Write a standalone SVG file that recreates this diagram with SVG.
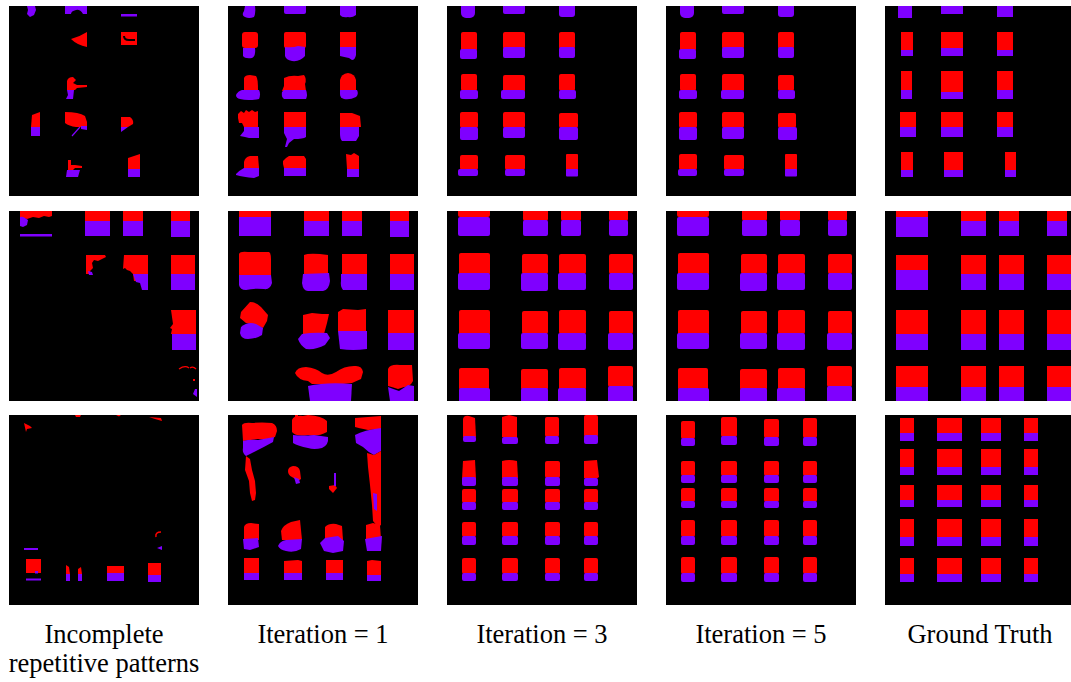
<svg xmlns="http://www.w3.org/2000/svg" width="1071" height="682" viewBox="0 0 1071 682">
  <style>
    .bg { fill: #000000; }
    .r { fill: #ff0000; }
    .p { fill: #7f00ff; }
    .lbl { font-family: "Liberation Serif", "Times New Roman", serif; font-size: 26.5px; fill: #000000; text-anchor: middle; }
  </style>
  <defs>
    <clipPath id="tile"><rect x="0" y="0" width="190" height="190"/></clipPath>
    <filter id="soft" x="-5%" y="-5%" width="110%" height="110%"><feGaussianBlur stdDeviation="0.7"/></filter>
  </defs>
  <rect x="0" y="0" width="1071" height="682" fill="#ffffff"/>

  <!-- ===== Row 1 ===== -->
  <g id="r1-incomplete" transform="translate(9,6)" clip-path="url(#tile)">
    <rect class="bg" width="190" height="190"/>
    <path class="p" d="M18,0 H26 L27,4 L25,9 L21,11 L18,8 L19,4 Z"/>
    <path class="p" d="M56,0 H78 V8 H74 Q71,3 67,4 Q62,5 62,8 H56 Z"/>
    <rect class="p" x="112" y="8" width="16" height="2.5"/>
    <path class="r" d="M62,33 Q70,31 78,26 V41 Q68,39 62,33 Z"/>
    <path class="r" d="M112,26 H128 V39 H112 Z"/>
    <path d="M115,30 Q115,34 120,34 H126" fill="none" stroke="#000" stroke-width="2"/>
    <path class="r" d="M58,75 Q59,71 64,71 L67,74 L64,77 L68,79 L78,79 L78,81 L68,82 L66,84 L58,84 Z"/>
    <path class="p" d="M58,84 H65 L64,93 H57 L59,89 Z"/>
    <path class="r" d="M23,109 L31,106 V121 H22 Z"/>
    <rect class="p" x="22" y="121" width="9" height="9"/>
    <path class="r" d="M56,106 Q70,106 76,110 L78,116 V122 L74,121 L67,121 Q60,120 56,117 Z"/>
    <path class="p" d="M72,120 L78,120 V124 L72,123 Z"/>
    <path d="M63,130 L71,121" stroke="#7f00ff" stroke-width="1.2"/>
    <path class="r" d="M112,111 H121 Q125,114 124,118 L119,121 H112 Z"/>
    <path class="p" d="M112,121 H119 L112,126 Z"/>
    <path class="r" d="M59,154 H62 V159 H66 L73,160 V162 H66 L64,164 H59 Z"/>
    <path class="p" d="M58,164 H71 L69,171 H57 Z"/>
    <path class="r" d="M119,152 L131,148 V163 H119 Z"/>
    <rect class="p" x="119" y="163" width="12" height="8"/>
  </g>

  <g id="r1-iter1" transform="translate(228,6)" clip-path="url(#tile)">
    <rect class="bg" width="190" height="190"/>
    <path class="p" d="M17,0 H27 Q28,7 26,11 Q21,13 17,11 Q13,9 16,5 Z"/>
    <rect class="p" x="56" y="-2" width="22" height="10" rx="2"/>
    <path class="p" d="M112,0 H128 V9 Q124,12 120,11 Q114,12 112,9 Z"/>
    <rect class="r" x="14" y="26" width="16" height="16" rx="3"/>
    <path class="p" d="M15,42 H27 Q28,50 24,52 Q17,53 15,50 Z"/>
    <rect class="r" x="56" y="26" width="22" height="16" rx="2"/>
    <path class="p" d="M57,41 Q65,42 70,40 L77,41 V50 Q72,56 64,55 Q58,54 57,50 Z"/>
    <rect class="r" x="112" y="26" width="16" height="15"/>
    <path class="p" d="M112,41 H128 V49 Q127,54 124,54 L121,52 Q116,51 112,50 Z"/>
    <path class="r" d="M16,72 Q17,69 22,69 L28,70 Q30,72 30,84 H16 Z"/>
    <path class="p" d="M8,89 Q10,85 14,84 H31 Q33,88 31,93 Q20,95 12,93 Q8,92 8,89 Z"/>
    <path class="r" d="M56,72 Q62,69 70,70 L76,69 Q79,73 77,78 L78,85 H54 L56,80 Z"/>
    <path class="p" d="M54,86 L56,84 H78 Q80,89 78,93 H56 Q53,91 54,86 Z"/>
    <path class="r" d="M112,74 Q113,68 120,67 Q127,68 128,74 V84 H112 Z"/>
    <path class="p" d="M112,84 H129 Q131,88 128,91 Q122,94 116,93 Q112,92 112,88 Z"/>
    <path class="r" d="M10,108 L13,105 L16,107 L18,104 L21,106 L24,104 L27,106 L30,105 V121 H16 L14,117 L11,117 L10,112 Z"/>
    <path class="p" d="M16,121 H31 V132 H21 L17,131 L12,130 L16,125 Z"/>
    <rect class="r" x="56" y="106" width="22" height="15"/>
    <path class="p" d="M56,121 H78 V131 Q75,133 66,133 L61,137 L59,141 L57,141 L59,133 L56,127 Z"/>
    <path class="r" d="M112,107 L124,107 L132,110 L133,121 H112 Z"/>
    <path class="p" d="M112,121 H131 V130 L128,135 H114 Q112,133 112,128 Z"/>
    <path class="r" d="M16,156 Q17,151 22,150 H30 L31,162 H16 Z"/>
    <path class="p" d="M8,168 Q12,164 16,162 H31 V170 L26,172 Q15,171 8,169 Z"/>
    <path class="r" d="M55,155 L58,152 L61,150 L68,150 L76,150 L78,153 V162 H56 L55,158 Z"/>
    <rect class="p" x="56" y="162" width="22" height="8"/>
    <path class="r" d="M118,148 L123,149 L126,147 L131,150 V163 H119 Z"/>
    <rect class="p" x="119" y="163" width="12" height="8"/>
  </g>

  <g id="r1-iter3" transform="translate(447,6)" clip-path="url(#tile)">
    <rect class="bg" width="190" height="190"/>
    <rect class="p" x="14" y="-4" width="14" height="16" rx="5"/>
    <rect class="p" x="56" y="-3" width="22" height="11" rx="2"/>
    <rect class="p" x="112" y="-3" width="16" height="14" rx="3"/>
    <rect class="r" x="14" y="26" width="16" height="19" rx="2"/>
    <rect class="p" x="13" y="43" width="17" height="10" rx="2"/>
    <rect class="r" x="56" y="26" width="22" height="17" rx="2"/>
    <rect class="p" x="56" y="41" width="22" height="11" rx="2"/>
    <rect class="r" x="112" y="26" width="16" height="17" rx="2"/>
    <rect class="p" x="112" y="41" width="16" height="11" rx="2"/>
    <rect class="r" x="14" y="68" width="16" height="17" rx="2"/>
    <rect class="p" x="13" y="84" width="18" height="9" rx="2"/>
    <rect class="r" x="56" y="69" width="22" height="17" rx="2"/>
    <rect class="p" x="54" y="84" width="24" height="9" rx="2"/>
    <rect class="r" x="112" y="68" width="16" height="17" rx="2"/>
    <rect class="p" x="112" y="84" width="17" height="9" rx="2"/>
    <rect class="r" x="13" y="106" width="18" height="16" rx="2"/>
    <rect class="p" x="13" y="121" width="18" height="13" rx="2"/>
    <rect class="r" x="56" y="106" width="22" height="16" rx="2"/>
    <rect class="p" x="56" y="121" width="22" height="11" rx="2"/>
    <rect class="r" x="112" y="107" width="19" height="15" rx="2"/>
    <rect class="p" x="112" y="121" width="19" height="13" rx="2"/>
    <rect class="r" x="13" y="149" width="18" height="15" rx="2"/>
    <rect class="p" x="11" y="163" width="20" height="7" rx="2"/>
    <rect class="r" x="58" y="149" width="20" height="15" rx="2"/>
    <rect class="p" x="58" y="163" width="20" height="7" rx="2"/>
    <rect class="r" x="119" y="148" width="12" height="16" rx="1"/>
    <rect class="p" x="119" y="163" width="12" height="7.5" rx="1"/>
  </g>

  <g id="r1-iter5" transform="translate(666,6)" clip-path="url(#tile)">
    <rect class="bg" width="190" height="190"/>
    <rect class="p" x="14" y="-4" width="14" height="16" rx="5"/>
    <rect class="p" x="56" y="-3" width="22" height="11" rx="2"/>
    <rect class="p" x="112" y="-3" width="16" height="14" rx="3"/>
    <rect class="r" x="14" y="26" width="16" height="19" rx="2"/>
    <rect class="p" x="13" y="43" width="17" height="10" rx="2"/>
    <rect class="r" x="56" y="26" width="22" height="17" rx="2"/>
    <rect class="p" x="56" y="41" width="22" height="11" rx="2"/>
    <rect class="r" x="112" y="26" width="16" height="17" rx="2"/>
    <rect class="p" x="112" y="41" width="16" height="11" rx="2"/>
    <rect class="r" x="14" y="68" width="16" height="17" rx="2"/>
    <rect class="p" x="13" y="84" width="18" height="9" rx="2"/>
    <rect class="r" x="56" y="68" width="22" height="18" rx="2"/>
    <rect class="p" x="55" y="84" width="23" height="9" rx="2"/>
    <rect class="r" x="112" y="69" width="16" height="16" rx="2"/>
    <rect class="p" x="112" y="84" width="17" height="9" rx="2"/>
    <rect class="r" x="13" y="106" width="18" height="16" rx="2"/>
    <rect class="p" x="13" y="121" width="18" height="13" rx="2"/>
    <rect class="r" x="56" y="106" width="22" height="16" rx="2"/>
    <rect class="p" x="56" y="121" width="22" height="12" rx="2"/>
    <rect class="r" x="112" y="107" width="18" height="15" rx="2"/>
    <rect class="p" x="112" y="121" width="19" height="13" rx="2"/>
    <rect class="r" x="13" y="148" width="18" height="16" rx="2"/>
    <rect class="p" x="12" y="163" width="19" height="7" rx="2"/>
    <rect class="r" x="58" y="149" width="20" height="15" rx="2"/>
    <rect class="p" x="58" y="163" width="20" height="7" rx="2"/>
    <rect class="r" x="119" y="148" width="12" height="16" rx="1"/>
    <rect class="p" x="119" y="163" width="12" height="7.5" rx="1"/>
  </g>

  <g id="r1-truth" transform="translate(885,6)" clip-path="url(#tile)">
    <rect class="bg" width="190" height="190"/>
    <g filter="url(#soft)">
      <rect class="p" x="13" y="-3" width="14" height="15"/>
      <rect class="p" x="56" y="-3" width="22" height="11"/>
      <rect class="p" x="112" y="-3" width="16" height="14"/>
      <rect class="r" x="16" y="26" width="12" height="18"/>
      <rect class="p" x="16" y="44" width="12" height="6"/>
      <rect class="r" x="56" y="26" width="22" height="16"/>
      <rect class="p" x="56" y="42" width="22" height="8"/>
      <rect class="r" x="112" y="26" width="16" height="18"/>
      <rect class="p" x="112" y="44" width="16" height="6"/>
      <rect class="r" x="16" y="65" width="11" height="19"/>
      <rect class="p" x="16" y="84" width="11" height="9"/>
      <rect class="r" x="56" y="65" width="22" height="21"/>
      <rect class="p" x="56" y="86" width="22" height="7"/>
      <rect class="r" x="112" y="65" width="16" height="19"/>
      <rect class="p" x="112" y="84" width="16" height="9"/>
      <rect class="r" x="15" y="106" width="16" height="15"/>
      <rect class="p" x="15" y="121" width="16" height="10"/>
      <rect class="r" x="56" y="106" width="22" height="15"/>
      <rect class="p" x="56" y="121" width="22" height="10"/>
      <rect class="r" x="112" y="106" width="16" height="15"/>
      <rect class="p" x="112" y="121" width="16" height="10"/>
      <rect class="r" x="16" y="146" width="12" height="18"/>
      <rect class="p" x="16" y="164" width="12" height="7"/>
      <rect class="r" x="59" y="146" width="19" height="18"/>
      <rect class="p" x="59" y="164" width="19" height="7"/>
      <rect class="r" x="120" y="146" width="11" height="18"/>
      <rect class="p" x="120" y="164" width="11" height="7"/>
    </g>
  </g>

  <!-- ===== Row 2 ===== -->
  <g id="r2-incomplete" transform="translate(9,211)" clip-path="url(#tile)">
    <rect class="bg" width="190" height="190"/>
    <path class="r" d="M11,0 H43 V5 L40,6 L35,5 L30,7 L24,6 L18,8 L14,7 L11,6 Z"/>
    <path class="p" d="M11,6 Q13,5 16,7 L19,9 L18,14 L14,16 L11,15 Z"/>
    <rect class="p" x="11" y="23" width="32" height="2.5"/>
    <rect class="r" x="76" y="0" width="25" height="10"/>
    <rect class="p" x="76" y="10" width="25" height="15"/>
    <rect class="r" x="114" y="0" width="20" height="10"/>
    <rect class="p" x="114" y="10" width="20" height="15"/>
    <rect class="r" x="162" y="0" width="19" height="10"/>
    <rect class="p" x="162" y="10" width="19" height="16"/>
    <path class="r" d="M77,44 L96,44 L97,46 L93,48 L89,50 L85,49 L83,52 L84,57 L81,60 L82,63 L77,63 Z"/>
    <path class="p" d="M79,60 L83,61 L84,64 L80,64 Z"/>
    <path class="r" d="M115,44 H139 V63 H131 V70 L125,70 L124,63 L121,60 L118,59 L116,57 L114,58 Z"/>
    <path class="p" d="M124,63 H139 V79 H133 L131,72 L127,71 Z"/>
    <rect class="r" x="162" y="44" width="24" height="19"/>
    <rect class="p" x="162" y="63" width="24" height="16"/>
    <path class="r" d="M162,99 H187 V123 H162 L163,118 L161,117 L164,113 Z"/>
    <rect class="p" x="163" y="123" width="24" height="16"/>
    <path d="M170,158 Q176,154 180,157 M181,157 Q184,155 187,158" fill="none" stroke="#ff0000" stroke-width="1.3"/>
    <rect class="r" x="184" y="168" width="2" height="2"/>
    <path class="p" d="M186,178 L188,178 L188,186 L184,183 Z"/>
  </g>

  <g id="r2-iter1" transform="translate(228,211)" clip-path="url(#tile)">
    <rect class="bg" width="190" height="190"/>
    <rect class="r" x="11" y="0" width="32" height="6"/>
    <rect class="p" x="11" y="6" width="32" height="19"/>
    <rect class="r" x="76" y="0" width="25" height="10"/>
    <rect class="p" x="76" y="10" width="25" height="15"/>
    <rect class="r" x="114" y="0" width="20" height="10"/>
    <rect class="p" x="114" y="10" width="20" height="15"/>
    <rect class="r" x="162" y="0" width="19" height="10"/>
    <rect class="p" x="162" y="10" width="19" height="16"/>
    <path class="r" d="M11,43 Q12,40 20,41 H41 Q43,42 43,48 V64 H11 Z"/>
    <path class="p" d="M11,64 H43 L44,72 Q42,79 36,78 Q26,77 18,79 Q12,79 11,74 Z"/>
    <path class="r" d="M76,44 Q80,42 92,43 L100,44 V63 H76 Z"/>
    <path class="p" d="M75,63 L101,62 L102,70 Q101,79 95,80 H80 Q75,80 74,72 Z"/>
    <path class="r" d="M114,43 H139 V63 H114 Z"/>
    <path class="p" d="M113,63 H139 V79 H115 Q112,75 113,70 Z"/>
    <rect class="r" x="162" y="43" width="24" height="20"/>
    <rect class="p" x="162" y="63" width="24" height="16"/>
    <path class="r" d="M22,91 Q28,91 33,96 L40,104 L39,110 L35,117 L28,114 L18,112 L12,107 L13,101 Z"/>
    <path class="p" d="M13,116 Q20,110 28,113 L35,117 L34,124 Q28,128 20,128 Q13,128 12,122 Z"/>
    <path class="r" d="M75,104 L84,102 L94,103 L101,103 L99,112 L96,123 H75 Z"/>
    <path class="p" d="M70,128 L74,123 Q86,121 99,122 L102,127 L97,134 Q88,139 78,138 Q72,134 70,128 Z"/>
    <path class="r" d="M110,101 L115,98 L130,99 L138,98 V120 H110 Z"/>
    <path class="p" d="M110,120 H139 V138 Q125,140 112,138 Z"/>
    <rect class="r" x="160" y="99" width="26" height="23"/>
    <rect class="p" x="160" y="122" width="26" height="17"/>
    <path class="r" d="M67,162 Q69,156 78,156 Q88,157 94,162 Q100,166 108,161 Q116,155 126,155 Q134,154 135,161 L133,168 L124,172 L115,173 L84,173 L80,170 Q70,169 67,162 Z"/>
    <path class="p" d="M80,175 Q98,171 124,173 L123,190 H82 Z"/>
    <path class="r" d="M160,158 Q162,153 172,154 L184,154 L185,170 Q182,176 176,176 L170,178 Q164,176 160,175 Z"/>
    <path class="p" d="M160,176 Q165,178 171,180 L180,174 L186,175 V190 H162 Z"/>
  </g>

  <g id="r2-iter3" transform="translate(447,211)" clip-path="url(#tile)">
    <rect class="bg" width="190" height="190"/>
    <rect class="r" x="11" y="-3" width="32" height="9" rx="2"/>
    <rect class="p" x="11" y="6" width="32" height="19" rx="2"/>
    <rect class="r" x="76" y="-3" width="25" height="13" rx="2"/>
    <rect class="p" x="76" y="9" width="25" height="16" rx="2"/>
    <rect class="r" x="114" y="-3" width="20" height="13" rx="2"/>
    <rect class="p" x="114" y="9" width="20" height="16" rx="2"/>
    <rect class="r" x="162" y="-3" width="19" height="13" rx="2"/>
    <rect class="p" x="162" y="9" width="19" height="16" rx="2"/>
    <rect class="r" x="12" y="42" width="31" height="22" rx="2"/>
    <rect class="p" x="11" y="62" width="32" height="17" rx="2"/>
    <rect class="r" x="75" y="43" width="26" height="20" rx="2"/>
    <rect class="p" x="74" y="62" width="27" height="18" rx="2"/>
    <rect class="r" x="112" y="43" width="27" height="20" rx="2"/>
    <rect class="p" x="111" y="62" width="28" height="17" rx="2"/>
    <rect class="r" x="162" y="43" width="24" height="20" rx="2"/>
    <rect class="p" x="162" y="62" width="24" height="17" rx="2"/>
    <rect class="r" x="12" y="99" width="31" height="25" rx="2"/>
    <rect class="p" x="11" y="122" width="32" height="16" rx="2"/>
    <rect class="r" x="75" y="100" width="26" height="23" rx="2"/>
    <rect class="p" x="74" y="122" width="27" height="16" rx="2"/>
    <rect class="r" x="112" y="99" width="27" height="24" rx="2"/>
    <rect class="p" x="111" y="122" width="28" height="17" rx="2"/>
    <rect class="r" x="162" y="100" width="24" height="23" rx="2"/>
    <rect class="p" x="161" y="122" width="25" height="17" rx="2"/>
    <rect class="r" x="12" y="157" width="30" height="22" rx="2"/>
    <rect class="p" x="12" y="177" width="31" height="15" rx="2"/>
    <rect class="r" x="74" y="158" width="27" height="21" rx="2"/>
    <rect class="p" x="74" y="177" width="27" height="15" rx="2"/>
    <rect class="r" x="112" y="157" width="27" height="22" rx="2"/>
    <rect class="p" x="111" y="177" width="28" height="15" rx="2"/>
    <rect class="r" x="161" y="155" width="25" height="21" rx="2"/>
    <rect class="p" x="161" y="175" width="25" height="17" rx="2"/>
  </g>

  <g id="r2-iter5" transform="translate(666,211)" clip-path="url(#tile)">
    <rect class="bg" width="190" height="190"/>
    <rect class="r" x="11" y="-3" width="32" height="9" rx="2"/>
    <rect class="p" x="11" y="6" width="32" height="19" rx="2"/>
    <rect class="r" x="76" y="-3" width="25" height="13" rx="2"/>
    <rect class="p" x="76" y="9" width="25" height="16" rx="2"/>
    <rect class="r" x="114" y="-3" width="20" height="13" rx="2"/>
    <rect class="p" x="114" y="9" width="20" height="16" rx="2"/>
    <rect class="r" x="162" y="-3" width="19" height="13" rx="2"/>
    <rect class="p" x="162" y="9" width="19" height="16" rx="2"/>
    <rect class="r" x="12" y="42" width="31" height="22" rx="2"/>
    <rect class="p" x="11" y="62" width="32" height="17" rx="2"/>
    <rect class="r" x="75" y="43" width="26" height="20" rx="2"/>
    <rect class="p" x="74" y="62" width="27" height="18" rx="2"/>
    <rect class="r" x="112" y="43" width="27" height="20" rx="2"/>
    <rect class="p" x="111" y="62" width="28" height="17" rx="2"/>
    <rect class="r" x="162" y="43" width="24" height="20" rx="2"/>
    <rect class="p" x="162" y="62" width="24" height="17" rx="2"/>
    <rect class="r" x="12" y="99" width="31" height="25" rx="2"/>
    <rect class="p" x="11" y="122" width="32" height="16" rx="2"/>
    <rect class="r" x="75" y="100" width="26" height="23" rx="2"/>
    <rect class="p" x="74" y="122" width="27" height="16" rx="2"/>
    <rect class="r" x="112" y="99" width="27" height="24" rx="2"/>
    <rect class="p" x="111" y="122" width="28" height="17" rx="2"/>
    <rect class="r" x="162" y="100" width="24" height="23" rx="2"/>
    <rect class="p" x="161" y="122" width="25" height="17" rx="2"/>
    <rect class="r" x="12" y="157" width="30" height="22" rx="2"/>
    <rect class="p" x="12" y="177" width="31" height="15" rx="2"/>
    <rect class="r" x="74" y="158" width="27" height="21" rx="2"/>
    <rect class="p" x="74" y="177" width="27" height="15" rx="2"/>
    <rect class="r" x="112" y="157" width="27" height="22" rx="2"/>
    <rect class="p" x="111" y="177" width="28" height="15" rx="2"/>
    <rect class="r" x="161" y="155" width="25" height="21" rx="2"/>
    <rect class="p" x="161" y="175" width="25" height="17" rx="2"/>
  </g>

  <g id="r2-truth" transform="translate(885,211)" clip-path="url(#tile)">
    <rect class="bg" width="190" height="190"/>
    <g filter="url(#soft)">
      <rect class="r" x="11" y="-3" width="32" height="9"/>
      <rect class="p" x="11" y="6" width="32" height="20"/>
      <rect class="r" x="76" y="-3" width="25" height="13"/>
      <rect class="p" x="76" y="10" width="25" height="15"/>
      <rect class="r" x="114" y="-3" width="20" height="13"/>
      <rect class="p" x="114" y="10" width="20" height="15"/>
      <rect class="r" x="162" y="-3" width="20" height="13"/>
      <rect class="p" x="162" y="10" width="20" height="15"/>
      <rect class="r" x="11" y="44" width="32" height="15"/>
      <rect class="p" x="11" y="59" width="32" height="20"/>
      <rect class="r" x="76" y="44" width="25" height="19"/>
      <rect class="p" x="76" y="63" width="25" height="16"/>
      <rect class="r" x="114" y="44" width="25" height="19"/>
      <rect class="p" x="114" y="63" width="25" height="16"/>
      <rect class="r" x="162" y="44" width="26" height="19"/>
      <rect class="p" x="162" y="63" width="26" height="16"/>
      <rect class="r" x="11" y="99" width="32" height="24"/>
      <rect class="p" x="11" y="123" width="32" height="16"/>
      <rect class="r" x="76" y="99" width="25" height="24"/>
      <rect class="p" x="76" y="123" width="25" height="16"/>
      <rect class="r" x="114" y="99" width="25" height="24"/>
      <rect class="p" x="114" y="123" width="25" height="16"/>
      <rect class="r" x="162" y="99" width="26" height="24"/>
      <rect class="p" x="162" y="123" width="26" height="16"/>
      <rect class="r" x="11" y="155" width="32" height="21"/>
      <rect class="p" x="11" y="176" width="32" height="16"/>
      <rect class="r" x="76" y="155" width="25" height="21"/>
      <rect class="p" x="76" y="176" width="25" height="16"/>
      <rect class="r" x="114" y="155" width="25" height="21"/>
      <rect class="p" x="114" y="176" width="25" height="16"/>
      <rect class="r" x="162" y="155" width="26" height="21"/>
      <rect class="p" x="162" y="176" width="26" height="16"/>
    </g>
  </g>

  <!-- ===== Row 3 ===== -->
  <g id="r3-incomplete" transform="translate(9,415)" clip-path="url(#tile)">
    <rect class="bg" width="190" height="190"/>
    <path class="r" d="M15,8 L21,11 L23,13 L18,14 L17,17 Z"/>
    <path class="r" d="M66,0 H72 L71,2 H67 Z"/>
    <path class="r" d="M107,0 H112 L110,1.5 Z"/>
    <path class="r" d="M140,2 L152,3 L153,6 L146,4 Z"/>
    <path d="M152,117 Q146,117 147,122" fill="none" stroke="#ff0000" stroke-width="1.5"/>
    <path class="p" d="M148,133 L153,131 L153,135 Z"/>
    <rect class="p" x="15" y="133" width="14" height="2"/>
    <rect class="r" x="17" y="144" width="15" height="14"/>
    <rect class="p" x="26" y="156" width="3" height="2.5"/>
    <rect class="p" x="17" y="163.5" width="15" height="2"/>
    <path class="r" d="M57,150 L60,152 L61,159 H57 Z"/>
    <rect class="p" x="57" y="159" width="4" height="7"/>
    <path class="r" d="M69,154 L72,152 L73,159 H69 Z"/>
    <rect class="p" x="69" y="159" width="4" height="7"/>
    <rect class="r" x="98" y="151" width="17" height="7"/>
    <rect class="p" x="98" y="158" width="17" height="8"/>
    <rect class="r" x="139" y="148" width="13" height="12"/>
    <rect class="p" x="139" y="160" width="13" height="7"/>
  </g>

  <g id="r3-iter1" transform="translate(228,415)" clip-path="url(#tile)">
    <rect class="bg" width="190" height="190"/>
    <path class="r" d="M14,10 Q16,7 24,8 Q34,7 44,8 Q49,10 49,16 L47,22 Q40,25 30,24 L15,26 Z"/>
    <path class="p" d="M15,26 Q22,24 30,25 L46,22 L45,27 Q36,32 28,36 L18,41 Q14,38 15,33 Z"/>
    <path class="r" d="M18,41 L22,44 L24,55 L27,66 L28,78 L27,85 L24,86 L22,78 L21,66 L17,55 Z"/>
    <path class="r" d="M64,5 Q66,0 75,1 L80,0 Q94,1 99,6 L99,17 Q90,22 80,20 Q68,22 64,17 Z"/>
    <rect class="r" x="67" y="0" width="3" height="5"/>
    <path class="p" d="M65,20 Q75,21 86,20 L100,22 Q101,30 94,33 Q86,35 80,33 Q70,31 65,28 Z"/>
    <path class="r" d="M127,3 L140,2 L153,1 V14 L140,15 Q130,13 127,12 Z"/>
    <path class="p" d="M127,20 Q136,15 153,13 V36 L146,40 Q140,37 135,32 L128,28 Z"/>
    <path class="r" d="M139,38 L146,40 L153,36 V110 L150,112 L145,106 L144,90 L142,70 L140,52 Z"/>
    <path class="p" d="M145,78 L149,79 L149,96 L146,94 Z"/>
    <path class="r" d="M60,56 Q60,52 65,51 Q71,51 72,56 L73,64 L70,66 L64,62 Q60,60 60,56 Z"/>
    <path class="p" d="M66,62 L71,64 L72,68 L68,69 Z"/>
    <path class="r" d="M101,71 L107,70 L109,73 L105,78 L101,74 Z"/>
    <path class="p" d="M106,58 L108,58 L108,71 L106,71 Z"/>
    <path class="r" d="M16,112 Q17,108 23,108 L31,109 L31,125 H16 Z"/>
    <path class="p" d="M15,124 L30,123 L31,132 L22,135 L16,134 Z"/>
    <path class="r" d="M53,116 Q55,110 63,107 L72,105 L74,125 H54 Z"/>
    <path class="p" d="M50,131 Q52,126 58,125 L74,124 L73,134 Q66,138 58,136 Q52,135 50,131 Z"/>
    <path class="r" d="M97,112 Q101,108 108,109 L114,111 L115,125 H97 Z"/>
    <path class="p" d="M92,128 L97,123 L110,121 L116,126 L115,136 L105,138 L96,136 Z"/>
    <path class="r" d="M138,110 L145,108 L152,110 L153,124 H138 Z"/>
    <path class="p" d="M137,124 L154,121 L153,136 H139 Z"/>
    <rect class="r" x="16" y="143" width="15" height="15"/>
    <rect class="p" x="16" y="158" width="15" height="7"/>
    <path class="r" d="M56,146 L70,145 L74,146 V159 H56 Z"/>
    <rect class="p" x="56" y="158" width="18" height="7"/>
    <rect class="r" x="98" y="145" width="17" height="13"/>
    <rect class="p" x="98" y="158" width="17" height="7"/>
    <path class="r" d="M139,146 L144,145 L153,146 V160 H139 Z"/>
    <rect class="p" x="139" y="160" width="14" height="6"/>
  </g>

  <g id="r3-iter3" transform="translate(447,415)" clip-path="url(#tile)">
    <rect class="bg" width="190" height="190"/>
    <path class="r" d="M16,4 Q17,0 22,1 L28,3 L29,22 H16 Z"/>
    <rect class="p" x="16" y="21" width="13" height="6" rx="2"/>
    <path class="r" d="M55,2 L62,0 L70,2 L70,24 L55,22 Z"/>
    <rect class="p" x="55" y="22" width="16" height="7" rx="2"/>
    <rect class="r" x="98" y="2" width="14" height="20" rx="2"/>
    <rect class="p" x="98" y="21" width="14" height="8" rx="2"/>
    <rect class="r" x="137" y="0" width="14" height="22" rx="2"/>
    <rect class="p" x="137" y="20" width="14" height="9" rx="2"/>
    <path class="r" d="M16,46 L28,45 L29,64 H15 Z"/>
    <rect class="p" x="15" y="62" width="14" height="9" rx="2"/>
    <path class="r" d="M55,46 Q62,44 70,46 L71,63 H55 Z"/>
    <rect class="p" x="55" y="62" width="16" height="9" rx="2"/>
    <rect class="r" x="98" y="46" width="15" height="17" rx="2"/>
    <rect class="p" x="98" y="62" width="15" height="9" rx="2"/>
    <path class="r" d="M137,46 L150,45 L152,62 L146,66 L137,63 Z"/>
    <rect class="p" x="137" y="63" width="14" height="8" rx="2"/>
    <rect class="r" x="15" y="74" width="14" height="14" rx="2"/>
    <rect class="p" x="15" y="87" width="14" height="8" rx="2"/>
    <rect class="r" x="55" y="74" width="16" height="14" rx="2"/>
    <rect class="p" x="55" y="87" width="16" height="8" rx="2"/>
    <rect class="r" x="98" y="74" width="15" height="14" rx="2"/>
    <rect class="p" x="98" y="87" width="15" height="8" rx="2"/>
    <rect class="r" x="137" y="74" width="14" height="14" rx="2"/>
    <rect class="p" x="137" y="87" width="14" height="8" rx="2"/>
    <rect class="r" x="15" y="107" width="14" height="15" rx="2"/>
    <rect class="p" x="15" y="121" width="14" height="9" rx="2"/>
    <rect class="r" x="55" y="107" width="16" height="15" rx="2"/>
    <rect class="p" x="55" y="121" width="16" height="9" rx="2"/>
    <rect class="r" x="98" y="107" width="15" height="15" rx="2"/>
    <rect class="p" x="98" y="121" width="15" height="9" rx="2"/>
    <rect class="r" x="137" y="107" width="14" height="15" rx="2"/>
    <rect class="p" x="137" y="121" width="14" height="9" rx="2"/>
    <rect class="r" x="15" y="143" width="14" height="16" rx="2"/>
    <rect class="p" x="15" y="158" width="14" height="8" rx="2"/>
    <rect class="r" x="55" y="143" width="16" height="16" rx="2"/>
    <rect class="p" x="55" y="158" width="16" height="8" rx="2"/>
    <rect class="r" x="98" y="143" width="15" height="16" rx="2"/>
    <rect class="p" x="98" y="158" width="15" height="8" rx="2"/>
    <rect class="r" x="137" y="143" width="14" height="16" rx="2"/>
    <rect class="p" x="137" y="158" width="14" height="8" rx="2"/>
  </g>

  <g id="r3-iter5" transform="translate(666,415)" clip-path="url(#tile)">
    <rect class="bg" width="190" height="190"/>
    <rect class="r" x="15" y="6" width="14" height="18" rx="2"/>
    <rect class="p" x="15" y="23" width="14" height="8" rx="2"/>
    <rect class="r" x="55" y="2" width="16" height="20" rx="2"/>
    <rect class="p" x="55" y="21" width="16" height="9" rx="2"/>
    <rect class="r" x="98" y="4" width="15" height="19" rx="2"/>
    <rect class="p" x="98" y="22" width="15" height="9" rx="2"/>
    <rect class="r" x="137" y="3" width="14" height="20" rx="2"/>
    <rect class="p" x="137" y="22" width="14" height="9" rx="2"/>
    <rect class="r" x="15" y="46" width="14" height="15" rx="2"/>
    <rect class="p" x="15" y="60" width="14" height="8" rx="2"/>
    <rect class="r" x="55" y="46" width="16" height="15" rx="2"/>
    <rect class="p" x="55" y="60" width="16" height="8" rx="2"/>
    <rect class="r" x="98" y="46" width="15" height="15" rx="2"/>
    <rect class="p" x="98" y="60" width="15" height="8" rx="2"/>
    <rect class="r" x="137" y="46" width="14" height="15" rx="2"/>
    <rect class="p" x="137" y="60" width="14" height="8" rx="2"/>
    <rect class="r" x="15" y="73" width="14" height="14" rx="2"/>
    <rect class="p" x="15" y="86" width="14" height="7" rx="2"/>
    <rect class="r" x="55" y="73" width="16" height="14" rx="2"/>
    <rect class="p" x="55" y="86" width="16" height="7" rx="2"/>
    <rect class="r" x="98" y="73" width="15" height="14" rx="2"/>
    <rect class="p" x="98" y="86" width="15" height="7" rx="2"/>
    <rect class="r" x="137" y="73" width="14" height="14" rx="2"/>
    <rect class="p" x="137" y="86" width="14" height="7" rx="2"/>
    <rect class="r" x="15" y="105" width="14" height="17" rx="2"/>
    <rect class="p" x="15" y="121" width="14" height="9" rx="2"/>
    <rect class="r" x="55" y="105" width="16" height="17" rx="2"/>
    <rect class="p" x="55" y="121" width="16" height="9" rx="2"/>
    <rect class="r" x="98" y="105" width="15" height="17" rx="2"/>
    <rect class="p" x="98" y="121" width="15" height="9" rx="2"/>
    <rect class="r" x="137" y="105" width="14" height="17" rx="2"/>
    <rect class="p" x="137" y="121" width="14" height="9" rx="2"/>
    <rect class="r" x="15" y="142" width="14" height="17" rx="2"/>
    <rect class="p" x="15" y="158" width="14" height="9" rx="2"/>
    <rect class="r" x="55" y="142" width="16" height="17" rx="2"/>
    <rect class="p" x="55" y="158" width="16" height="9" rx="2"/>
    <rect class="r" x="98" y="142" width="15" height="17" rx="2"/>
    <rect class="p" x="98" y="158" width="15" height="9" rx="2"/>
    <rect class="r" x="137" y="142" width="14" height="17" rx="2"/>
    <rect class="p" x="137" y="158" width="14" height="9" rx="2"/>
  </g>

  <g id="r3-truth" transform="translate(885,415)" clip-path="url(#tile)">
    <rect class="bg" width="190" height="190"/>
    <g filter="url(#soft)">
      <rect class="r" x="15" y="3" width="14" height="15"/>
      <rect class="p" x="15" y="18" width="14" height="8"/>
      <rect class="r" x="52" y="3" width="25" height="15"/>
      <rect class="p" x="52" y="18" width="25" height="8"/>
      <rect class="r" x="96" y="3" width="20" height="15"/>
      <rect class="p" x="96" y="18" width="20" height="8"/>
      <rect class="r" x="139" y="3" width="14" height="15"/>
      <rect class="p" x="139" y="18" width="14" height="8"/>
      <rect class="r" x="15" y="34" width="14" height="18"/>
      <rect class="p" x="15" y="52" width="14" height="8"/>
      <rect class="r" x="52" y="34" width="25" height="18"/>
      <rect class="p" x="52" y="52" width="25" height="8"/>
      <rect class="r" x="96" y="34" width="20" height="18"/>
      <rect class="p" x="96" y="52" width="20" height="8"/>
      <rect class="r" x="139" y="34" width="14" height="18"/>
      <rect class="p" x="139" y="52" width="14" height="8"/>
      <rect class="r" x="15" y="70" width="14" height="15"/>
      <rect class="p" x="15" y="85" width="14" height="7"/>
      <rect class="r" x="52" y="70" width="25" height="15"/>
      <rect class="p" x="52" y="85" width="25" height="7"/>
      <rect class="r" x="96" y="70" width="20" height="15"/>
      <rect class="p" x="96" y="85" width="20" height="7"/>
      <rect class="r" x="139" y="70" width="14" height="15"/>
      <rect class="p" x="139" y="85" width="14" height="7"/>
      <rect class="r" x="15" y="104" width="14" height="18"/>
      <rect class="p" x="15" y="122" width="14" height="9"/>
      <rect class="r" x="52" y="104" width="25" height="18"/>
      <rect class="p" x="52" y="122" width="25" height="9"/>
      <rect class="r" x="96" y="104" width="20" height="18"/>
      <rect class="p" x="96" y="122" width="20" height="9"/>
      <rect class="r" x="139" y="104" width="14" height="18"/>
      <rect class="p" x="139" y="122" width="14" height="9"/>
      <rect class="r" x="15" y="143" width="14" height="16"/>
      <rect class="p" x="15" y="159" width="14" height="8"/>
      <rect class="r" x="52" y="143" width="25" height="16"/>
      <rect class="p" x="52" y="159" width="25" height="8"/>
      <rect class="r" x="96" y="143" width="20" height="16"/>
      <rect class="p" x="96" y="159" width="20" height="8"/>
      <rect class="r" x="139" y="143" width="14" height="16"/>
      <rect class="p" x="139" y="159" width="14" height="8"/>
    </g>
  </g>

  <!-- ===== Column captions ===== -->
  <g id="captions">
    <text class="lbl" x="104" y="643">Incomplete</text>
    <text class="lbl" x="104" y="672">repetitive patterns</text>
    <text class="lbl" x="323" y="643">Iteration = 1</text>
    <text class="lbl" x="542" y="643">Iteration = 3</text>
    <text class="lbl" x="761" y="643">Iteration = 5</text>
    <text class="lbl" x="980" y="643">Ground Truth</text>
  </g>
</svg>
